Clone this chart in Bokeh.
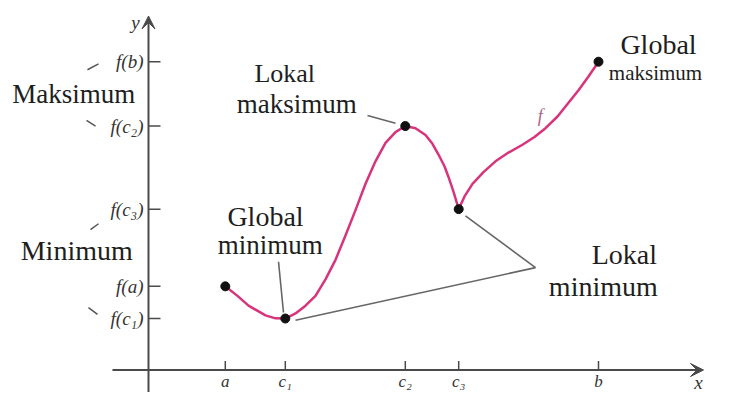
from bokeh.plotting import figure
from bokeh.models import Range1d, Arrow, VeeHead
from bokeh.core.properties import value
from bokeh.embed import file_html
from bokeh.resources import INLINE

# ---- data (units: 1 = one grid step of the sketch) ----
x_ticks = [1.28, 2.28, 4.28, 5.17, 7.5]
x_tick_labels = ["a", "c₁", "c₂", "c₃", "b"]
y_ticks = [5.27, 4.17, 2.75, 1.43, 0.88]
y_tick_labels = ["f(b)", "f(c₂)", "f(c₃)", "f(a)", "f(c₁)"]

# special points of f: a, c1, c2, c3, b
point_x = [1.28, 2.28, 4.28, 5.17, 7.5]
point_y = [1.43, 0.88, 4.17, 2.75, 5.27]

curve_x = [1.28, 1.483, 1.667, 1.95, 2.117, 2.28, 2.45, 2.617, 2.783, 2.95,
           3.117, 3.283, 3.45, 3.617, 3.783, 3.95, 4.117, 4.28, 4.45, 4.617,
           4.733, 4.833, 4.933, 5.0, 5.083, 5.17, 5.267, 5.40, 5.583, 5.783,
           6.0, 6.233, 6.433, 6.617, 6.817, 7.0, 7.167, 7.333, 7.5]
curve_y = [1.43, 1.267, 1.10, 0.933, 0.883, 0.88, 0.967, 1.10, 1.267, 1.55,
           1.883, 2.30, 2.733, 3.183, 3.567, 3.883, 4.067, 4.17, 4.133, 4.017,
           3.867, 3.683, 3.483, 3.30, 3.05, 2.75, 2.967, 3.183, 3.383, 3.567,
           3.717, 3.85, 3.983, 4.133, 4.333, 4.567, 4.783, 5.017, 5.27]

big_texts = ["Maksimum", "Minimum", "Lokal", "maksimum", "Global", "maksimum",
             "Global", "minimum", "Lokal", "minimum"]
big_x = [-2.27, -2.13, 2.27, 2.47, 8.5, 8.45, 1.95, 2.03, 7.93, 7.58]
big_y = [4.72, 2.05, 5.07, 4.55, 5.57, 5.07, 2.63, 2.13, 1.97, 1.43]
big_size = ["27px", "28px", "26px", "27px", "28px", "21px", "28px", "27px", "28px", "28px"]
big_align = ["left", "left", "center", "center", "center", "center",
             "center", "center", "center", "center"]

leader_x0 = [3.65, 2.167, 2.45, 6.45]
leader_y0 = [4.35, 1.85, 0.85, 1.75]
leader_x1 = [4.117, 2.25, 6.45, 5.283]
leader_y1 = [4.217, 0.983, 1.75, 2.633]

mark_x0 = [-1.017, -1.033, -0.967, -1.0]
mark_y0 = [5.133, 4.267, 2.4, 1.067]
mark_x1 = [-0.833, -0.883, -0.833, -0.85]
mark_y1 = [5.233, 4.167, 2.5, 0.95]

PX = 60.0   # horizontal pixels per unit
PY = 58.5   # vertical pixels per unit
AXIS_Y = 369.5  # canvas row of the x-axis
AXIS_X = 148.0  # canvas column of the y-axis
W, H = 728, 392
SERIF = value("Liberation Serif")
AXIS_C = "#4a4a4a"
CURVE_C = "#d8347c"

p = figure(width=W, height=H,
           x_range=Range1d(-AXIS_X / PX, (W - AXIS_X) / PX),
           y_range=Range1d(-(H - AXIS_Y) / PY, AXIS_Y / PY),
           output_backend="svg", toolbar_location=None, min_border=0)
p.axis.visible = False
p.grid.visible = False
p.outline_line_color = None
p.background_fill_color = "white"
p.border_fill_color = "white"

# axes with arrow heads
p.add_layout(Arrow(end=VeeHead(size=13, line_color=AXIS_C, fill_color=AXIS_C),
                   x_start=-36 / PX, y_start=0, x_end=555 / PX, y_end=0,
                   line_color=AXIS_C, line_width=2))
p.add_layout(Arrow(end=VeeHead(size=13, line_color=AXIS_C, fill_color=AXIS_C),
                   x_start=0, y_start=-30 / PY, x_end=0, y_end=354 / PY,
                   line_color=AXIS_C, line_width=2))

# ticks
p.segment(x0=x_ticks, y0=[0] * 5, x1=x_ticks, y1=[9 / PY] * 5,
          line_color=AXIS_C, line_width=1.5)
p.segment(x0=[0] * 5, y0=y_ticks, x1=[12 / PX] * 5, y1=y_ticks,
          line_color=AXIS_C, line_width=1.5)

# tick labels
p.text(x=x_ticks, y=[-11 / PY] * 5, text=x_tick_labels,
       text_font=SERIF, text_font_style="italic", text_font_size="17px",
       text_color="#333333", text_align="center", text_baseline="middle")
p.text(x=[-5 / PX] * 5, y=y_ticks, text=y_tick_labels,
       text_font=SERIF, text_font_style="italic", text_font_size="19px",
       text_color="#333333", text_align="right", text_baseline="middle")
p.text(x=[-13 / PX, 550 / PX], y=[348 / PY, -12 / PY], text=["y", "x"],
       text_font=SERIF, text_font_style="italic", text_font_size="19px",
       text_color="#333333", text_align="center", text_baseline="middle")

# small marks next to tick labels
p.segment(x0=mark_x0, y0=mark_y0, x1=mark_x1, y1=mark_y1,
          line_color="#555555", line_width=1.5)

# leader lines
p.segment(x0=leader_x0, y0=leader_y0, x1=leader_x1, y1=leader_y1,
          line_color="#666666", line_width=1.6)

# the function
p.line(curve_x, curve_y, line_color=CURVE_C, line_width=2.5, line_join="round")
p.scatter(point_x, point_y, size=9, color="#111111")

p.text(x=[6.53], y=[4.35], text=["f"], text_font=SERIF, text_font_style="italic",
       text_font_size="18px", text_color="#b06088", text_align="center",
       text_baseline="middle")

# annotations
for t, x, y, s, a in zip(big_texts, big_x, big_y, big_size, big_align):
    p.text(x=[x], y=[y], text=[t], text_font=SERIF, text_font_size=s,
           text_color="#1e1e1e", text_align=a, text_baseline="middle")

open("out.html", "w").write(file_html(p, INLINE))
